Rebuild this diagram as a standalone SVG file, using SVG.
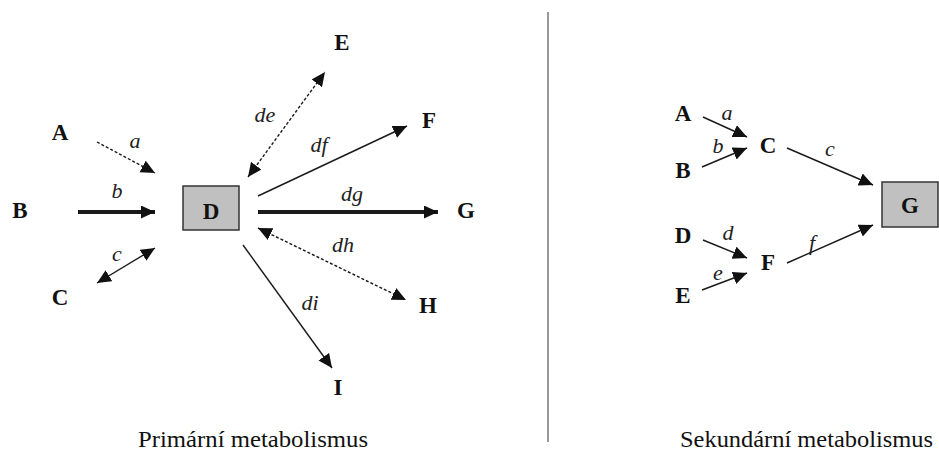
<svg xmlns="http://www.w3.org/2000/svg" width="939" height="451" viewBox="0 0 939 451">
<style>
text{font-family:"Liberation Serif","Times New Roman","DejaVu Serif",serif}
.node{font-weight:bold;font-size:23px;fill:#111;text-anchor:middle}
.lbl{font-style:italic;font-size:22px;fill:#222;text-anchor:middle}
.cap{font-size:24px;fill:#111}
.box{fill:#c0c0c0;stroke:#333;stroke-width:1.5}
.ln{stroke:#1a1a1a;stroke-width:1.4;fill:none}
.thick{stroke:#1a1a1a;stroke-width:4;fill:none}
.dash{stroke:#1a1a1a;stroke-width:1.4;fill:none;stroke-dasharray:3 2}
</style>
<defs>
<marker id="ah" markerUnits="userSpaceOnUse" markerWidth="15" markerHeight="14" refX="14" refY="6.5" orient="auto-start-reverse">
<path d="M0,0 L14,6.5 L0,13 z" fill="#111"/>
</marker>
</defs>
<rect width="939" height="451" fill="#fff"/>
<g id="connectors">
<line class="dash" x1="97" y1="142" x2="155" y2="173" marker-end="url(#ah)"/>
<line class="thick" x1="78" y1="212" x2="155" y2="212" marker-end="url(#ah)"/>
<line class="ln" x1="97" y1="283" x2="155" y2="248" marker-start="url(#ah)" marker-end="url(#ah)"/>
<line class="dash" x1="248" y1="177" x2="325" y2="72" marker-start="url(#ah)" marker-end="url(#ah)"/>
<line class="ln" x1="258" y1="196" x2="407" y2="126" marker-end="url(#ah)"/>
<line class="thick" x1="258" y1="212" x2="438" y2="212" marker-end="url(#ah)"/>
<line class="dash" x1="258" y1="228" x2="406" y2="300" marker-start="url(#ah)" marker-end="url(#ah)"/>
<line class="ln" x1="243" y1="245" x2="332" y2="368" marker-end="url(#ah)"/>
<line x1="548" y1="12" x2="548" y2="442" stroke="#777" stroke-width="1.5"/>
<line class="ln" x1="703" y1="117" x2="747" y2="137" marker-end="url(#ah)"/>
<line class="ln" x1="702" y1="167" x2="747" y2="148" marker-end="url(#ah)"/>
<line class="ln" x1="787" y1="148" x2="873" y2="185" marker-end="url(#ah)"/>
<line class="ln" x1="703" y1="240" x2="747" y2="258" marker-end="url(#ah)"/>
<line class="ln" x1="702" y1="290" x2="747" y2="273" marker-end="url(#ah)"/>
<line class="ln" x1="787" y1="263" x2="873" y2="225" marker-end="url(#ah)"/>
</g>
<g id="edge-labels">
<text class="lbl" x="135" y="148">a</text>
<text class="lbl" x="117" y="198">b</text>
<text class="lbl" x="117" y="261">c</text>
<text class="lbl" x="265" y="122">de</text>
<text class="lbl" x="319" y="152">df</text>
<text class="lbl" x="352" y="201">dg</text>
<text class="lbl" x="343" y="252">dh</text>
<text class="lbl" x="310" y="310">di</text>
<text class="lbl" x="727" y="120">a</text>
<text class="lbl" x="718" y="153">b</text>
<text class="lbl" x="830" y="156">c</text>
<text class="lbl" x="728" y="240">d</text>
<text class="lbl" x="718" y="280">e</text>
<text class="lbl" x="812" y="250">f</text>
</g>
<g id="p-A"><text class="node" x="60" y="140">A</text></g>
<g id="p-B"><text class="node" x="20" y="218">B</text></g>
<g id="p-C"><text class="node" x="60" y="305">C</text></g>
<g id="p-D"><rect class="box" x="183" y="186" width="56" height="44"/><text class="node" x="211" y="219">D</text></g>
<g id="p-E"><text class="node" x="342" y="50">E</text></g>
<g id="p-F"><text class="node" x="429" y="128">F</text></g>
<g id="p-G"><text class="node" x="466" y="218">G</text></g>
<g id="p-H"><text class="node" x="428" y="313">H</text></g>
<g id="p-I"><text class="node" x="338" y="395">I</text></g>
<g id="s-A"><text class="node" x="683" y="121">A</text></g>
<g id="s-B"><text class="node" x="683" y="178">B</text></g>
<g id="s-C"><text class="node" x="768" y="153">C</text></g>
<g id="s-D"><text class="node" x="683" y="243">D</text></g>
<g id="s-E"><text class="node" x="683" y="303">E</text></g>
<g id="s-F"><text class="node" x="768" y="270">F</text></g>
<g id="s-G"><rect class="box" x="882" y="182" width="56" height="45"/><text class="node" x="910" y="213">G</text></g>
<g id="captions">
<text class="cap" x="138" y="447" textLength="230" lengthAdjust="spacingAndGlyphs">Primární metabolismus</text>
<text class="cap" x="680" y="447" textLength="253" lengthAdjust="spacingAndGlyphs">Sekundární metabolismus</text>
</g>
</svg>
